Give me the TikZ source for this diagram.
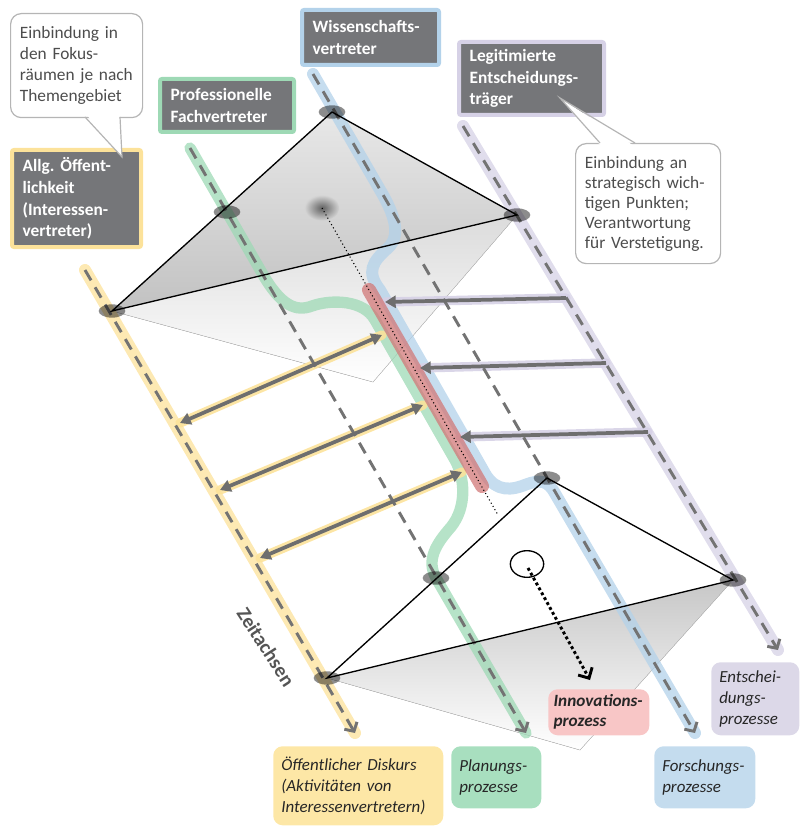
\documentclass[tikz,border=0pt]{standalone}
\usepackage{fontspec}
\setmainfont{Carlito}
\usepackage{tikz}
\usetikzlibrary{arrows.meta,shapes.geometric}
\definecolor{boxgray}{HTML}{757679}
\definecolor{dashgray}{HTML}{737373}
\definecolor{flowgray}{HTML}{6E6E6E}
\definecolor{calltext}{HTML}{4D4D4D}
\definecolor{calledge}{HTML}{B5B5B5}
\definecolor{ylwband}{HTML}{FCE29A}
\definecolor{ylwfill}{HTML}{FDE7A6}
\definecolor{grnband}{HTML}{9ED9B5}
\definecolor{grnfill}{HTML}{A8DFBF}
\definecolor{bluband}{HTML}{B3D2EA}
\definecolor{blufill}{HTML}{C4DCEE}
\definecolor{lavband}{HTML}{D6D1E6}
\definecolor{lavfill}{HTML}{DCD8E8}
\definecolor{redbar}{HTML}{D27878}
\definecolor{redfill}{HTML}{F8C6C6}
\definecolor{zeitgray}{HTML}{555555}

\begin{document}
\begin{tikzpicture}[
  x=0.75pt,y=-0.75pt,
  actor/.style={draw=#1,line width=3pt,fill=boxgray,text=white,rounded corners=1.5pt,
    font=\fontsize{13}{16.3}\selectfont\bfseries,align=left,anchor=north west,inner xsep=8pt},
  bubble/.style={draw=calledge,line width=0.9pt,fill=white,rounded corners=8pt,text=calltext,
    font=\fontsize{13}{15.75}\selectfont,align=left,anchor=north west,inner xsep=7pt},
  proc/.style={fill=#1,rounded corners=7pt,text=black!85,font=\fontsize{12.7}{15.75}\selectfont\itshape,
    align=left,anchor=north west,inner xsep=6pt},
  band/.style={draw=#1,line width=8.5pt,line cap=round,opacity=.75},
  axisline/.style={draw=dashgray,line width=2.2pt,dash pattern=on 9pt off 6pt,
    -{Straight Barb[length=5pt,width=11pt]}},
  flow/.style={draw=flowgray,line width=2.8pt,-{Triangle[length=8pt,width=9pt]}},
  flowboth/.style={flow,{Triangle[length=8pt,width=9pt]}-{Triangle[length=8pt,width=9pt]}},
  vtx/.style={ellipse,minimum width=20pt,minimum height=10pt,inner sep=0pt,fill=black,fill opacity=.45},
  edge/.style={draw=black,line width=1pt}
]
\useasboundingbox (0,0) rectangle (802,827);

% Zeitachsen
\coordinate (ys) at (85,270);  \coordinate (ye) at (355,733);
\coordinate (gs) at (190,148); \coordinate (ge) at (526,733);
\coordinate (bs) at (313,74);  \coordinate (be) at (695,733);
\coordinate (ls) at (463,126); \coordinate (le) at (778,650);

% Fokusraeume
\coordinate (T1) at (332,112); \coordinate (T2) at (112,311); \coordinate (T3) at (517,215);
\coordinate (TG) at (227,212); \coordinate (S1) at (373,382);
\coordinate (B1) at (547,478); \coordinate (B2) at (327,678); \coordinate (B3) at (733,580);
\coordinate (BG) at (436,578); \coordinate (S2) at (580,750);

% Schatten und oberes Dreieck
\fill[top color=black!14,bottom color=white] (T2) -- (T3) -- (S1) -- cycle;
\draw[black!25,line width=0.3pt] (T2) -- (S1) -- (T3);
\fill[top color=black!22,bottom color=white] (B2) -- (B3) -- (S2) -- cycle;
\draw[black!25,line width=0.3pt] (B2) -- (S2) -- (B3);
\fill[top color=black!9,bottom color=black!24] (T1) -- (T2) -- (T3) -- cycle;
\node[ellipse,minimum width=26pt,minimum height=19pt,inner sep=0pt,
  inner color=black!62,outer color=black!17] (spot) at (322,208) {};

% farbige Baender
\draw[band=ylwband,line width=9pt] (ys) -- (ye);
\draw[band=grnband] (gs) -- (262,273) .. controls (281,306) and (296,312) .. (312,306)
  .. controls (332,299) and (364,300) .. (375,320) -- (455,460)
  .. controls (465,478) and (467,507) .. (451,527) .. controls (436,544) and (426,560) .. (BG) -- (ge);
\draw[band=bluband,line width=9pt] (bs) -- (383,195) .. controls (393,213) and (402,235) .. (388,248)
  .. controls (372,262) and (366,272) .. (380,290) -- (483,470)
  .. controls (492,488) and (505,492) .. (522,486) .. controls (535,481) and (545,478) .. (553,490) -- (be);
\draw[band=lavband,line width=9pt] (ls) -- (le);

% Pfeile zwischen den Achsen
\coordinate (h1a) at (566,298); \coordinate (h1b) at (385,302);
\coordinate (h2a) at (606,363); \coordinate (h2b) at (420,368);
\coordinate (h3a) at (648,432); \coordinate (h3b) at (460,437);
\coordinate (d1a) at (180,423); \coordinate (d1b) at (382,335);
\coordinate (d2a) at (220,490); \coordinate (d2b) at (423,405);
\coordinate (d3a) at (260,558); \coordinate (d3b) at (462,472);
\foreach \a/\b in {h1a/h1b,h2a/h2b,h3a/h3b}
  \draw[band=lavband,line width=7pt,opacity=.9] (\a) -- (\b);
\foreach \a/\b in {d1a/d1b,d2a/d2b,d3a/d3b}
  \draw[band=ylwband,line width=7pt,opacity=.9] (\a) -- (\b);

% Innovationsprozess
\coordinate (r1) at (369,290); \coordinate (r2) at (482,486);
\draw[draw=redbar,line width=10.5pt,line cap=round,opacity=.75] (r1) -- (r2);

\draw[axisline] (ys) -- (ye);
\draw[axisline] (gs) -- (ge);
\draw[axisline] (bs) -- (be);
\draw[axisline] (ls) -- (le);

\coordinate (dotend) at (498,515);
\draw[black,dotted,line width=0.8pt] (spot.center) -- (dotend);

\foreach \a/\b in {h1a/h1b,h2a/h2b,h3a/h3b}
  \draw[flow] (\a) -- (\b);
\foreach \a/\b in {d1a/d1b,d2a/d2b,d3a/d3b}
  \draw[flowboth] (\a) -- (\b);

\draw[edge] (T1) -- (T2) -- (T3) -- cycle;
\draw[edge] (B1) -- (B2) -- (B3) -- cycle;
\foreach \v in {T1,T2,T3,TG,B1,B2,B3,BG}
  \node[vtx] (v\v) at (\v) {};

\node[ellipse,draw=black,line width=1pt,minimum width=25pt,minimum height=20pt,inner sep=0pt] (circ) at (527,564) {};
\coordinate (innovtip) at (590,680);
\draw[black,line width=2.2pt,dotted,-{Straight Barb[length=6pt,width=12pt]}] (528,568) -- (innovtip);

% Akteure
\node[actor=ylwband,text width=80.75pt,minimum height=72.75pt] (oeff) at (10,148)
  {Allg.\ Öffent-\\lichkeit\\(Interessen-\\vertreter)};
\node[actor=grnband,text width=84.5pt,minimum height=39.75pt] (fach) at (158,77)
  {Professionelle\\Fachvertreter};
\node[actor=bluband,text width=86.75pt,minimum height=41.25pt] (wiss) at (300,8)
  {Wissenschafts-\\vertreter};
\node[actor=lavband,text width=92.75pt,minimum height=54.75pt] (legit) at (457,40)
  {Legitimierte\\Entscheidungs-\\träger};

% Sprechblasen
\node[bubble,text width=85pt,minimum height=78pt] (fokus) at (10,13)
  {Einbindung in\\den Fokus-\\räumen je nach\\Themengebiet};
\coordinate (tip1) at (122,157);
\fill[white] (86,114) -- (tip1) -- (119.5,114) -- cycle;
\draw[calledge,line width=0.9pt] (85,117) -- (tip1) -- (120,117);
\node[bubble,font=\fontsize{13}{15}\selectfont,text width=94.75pt,minimum height=90pt] (strat) at (575,143)
  {Einbindung an\\strategisch wich-\\tigen Punkten;\\Verantwortung\\für Verstetigung.};
\coordinate (tip2) at (560,98);
\fill[white] (601,146) -- (tip2) -- (634,146) -- cycle;
\draw[calledge,line width=0.9pt] (600,143) -- (tip2) -- (635,143);

% Prozesse
\node[proc=ylwfill,text width=115.5pt,minimum height=59.25pt] (diskurs) at (273,746)
  {Öffentlicher Diskurs\\(Aktivitäten von\\Interessenvertretern)};
\node[proc=grnfill,text width=55.5pt,minimum height=46.5pt] (planung) at (451,746)
  {Planungs-\\prozesse};
\node[proc=redfill,font=\fontsize{12.9}{15}\selectfont\bfseries\itshape,inner xsep=4pt,
  text width=67.75pt,minimum height=34.5pt] (innov) at (548,689)
  {Innovations-\\prozess};
\node[proc=blufill,text width=63.75pt,minimum height=46.5pt] (forsch) at (654,746)
  {Forschungs-\\prozesse};
\node[proc=lavfill,text width=54pt,minimum height=54.75pt] (entsch) at (711,662)
  {Entschei-\\dungs-\\prozesse};

\node[rotate=-57,text=zeitgray,font=\fontsize{15}{17}\selectfont\bfseries] (zeit) at (266,647) {Zeitachsen};
\end{tikzpicture}
\end{document}
